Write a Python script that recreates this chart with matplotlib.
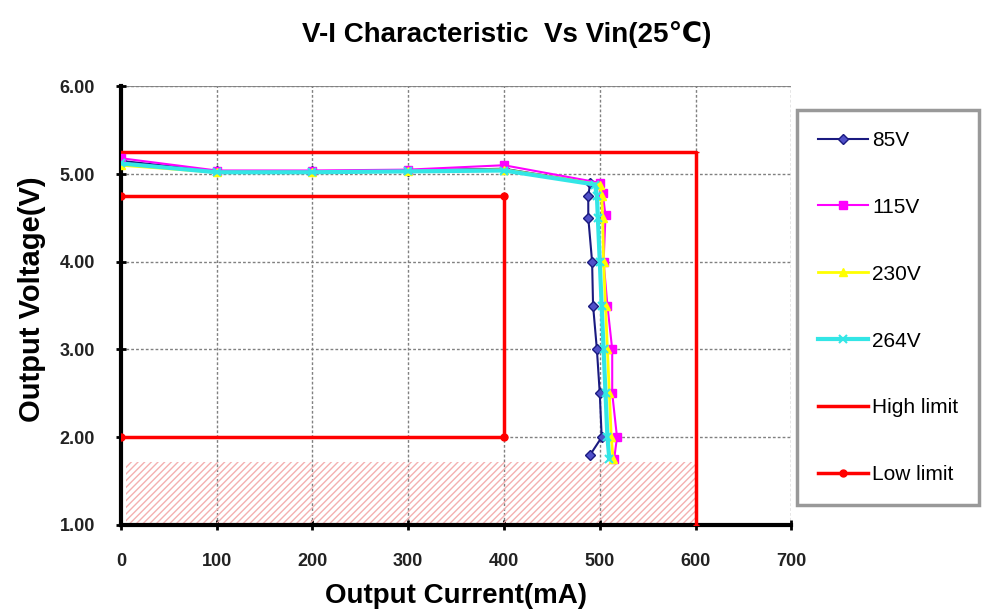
import matplotlib.pyplot as plt
from matplotlib.patches import Rectangle

plt.rcParams['font.family'] = ['Liberation Sans', 'DejaVu Sans']

# - Data
i_85 = [0, 100, 200, 300, 400, 490, 488, 488, 492, 493, 497, 500, 502, 490]
v_85 = [5.15, 5.03, 5.03, 5.04, 5.06, 4.90, 4.75, 4.50, 4.00, 3.50, 3.00, 2.50, 2.00, 1.80]
i_115 = [0, 100, 200, 300, 400, 500, 503, 506, 504, 508, 513, 513, 518, 515]
v_115 = [5.18, 5.04, 5.04, 5.05, 5.10, 4.90, 4.78, 4.53, 4.00, 3.50, 3.00, 2.50, 2.00, 1.75]
i_230 = [0, 100, 200, 300, 400, 500, 502, 503, 504, 506, 508, 510, 512, 514]
v_230 = [5.10, 5.02, 5.02, 5.03, 5.05, 4.88, 4.75, 4.50, 4.00, 3.50, 3.00, 2.50, 2.00, 1.75]
i_264 = [0, 100, 200, 300, 400, 495, 497, 498, 500, 502, 504, 506, 508, 510]
v_264 = [5.12, 5.02, 5.02, 5.03, 5.04, 4.88, 4.75, 4.50, 4.00, 3.50, 3.00, 2.50, 2.00, 1.75]
i_high = [0, 600, 600]
v_high = [5.25, 5.25, 1.00]
i_low = [0, 400, 400, 0]
v_low = [4.75, 4.75, 2.00, 2.00]
hatch_i = [5, 600]
hatch_v = [1.00, 1.72]

x_ticks = [0, 100, 200, 300, 400, 500, 600, 700]
y_ticks = [1, 2, 3, 4, 5, 6]

fig = plt.figure(figsize=(9.83, 6.11), dpi=100)
ax = fig.add_axes([0.123, 0.1408, 0.682, 0.718])

# - Hatched area below the limits
ax.add_patch(Rectangle((hatch_i[0], hatch_v[0]), hatch_i[1] - hatch_i[0],
                       hatch_v[1] - hatch_v[0], facecolor='none',
                       edgecolor='#F4B0B0', hatch='/////', linewidth=0, zorder=1))

ax.plot(i_high, v_high, color='#FF0000', lw=2.5, marker='_', ms=5, label='High limit', zorder=3)
ax.plot(i_low, v_low, color='#FF0000', lw=2.5, marker='o', ms=5, label='Low limit', zorder=3)
ax.plot(i_85, v_85, color='#1A1A80', lw=1.5, marker='D', ms=5, mfc='#5050C8',
        mec='#1A1A80', label='85V', zorder=4)
ax.plot(i_115, v_115, color='#FF00FF', lw=1.5, marker='s', ms=6, label='115V', zorder=4)
ax.plot(i_230, v_230, color='#FFFF00', lw=2, marker='^', ms=6, label='230V', zorder=5)
ax.plot(i_264, v_264, color='#33E6E6', lw=3, marker='x', ms=6, mew=1.5, label='264V', zorder=6)

ax.set_xlim(0, 700)
ax.set_ylim(1, 6)
ax.set_xticks(x_ticks)
ax.set_yticks(y_ticks)
ax.set_yticklabels(['%.2f' % v for v in y_ticks])
ax.tick_params(direction='inout', length=7, width=2, labelsize=13, labelcolor='#222222')
ax.tick_params(axis='x', pad=17)
ax.tick_params(axis='y', pad=15)
for lab in ax.get_xticklabels() + ax.get_yticklabels():
    lab.set_fontweight('bold')

ax.grid(True, color='#808080', linestyle=(0, (2, 1.5)), lw=1)
ax.set_axisbelow(True)
for s in ['top', 'right']:
    ax.spines[s].set_visible(False)
ax.spines['left'].set_linewidth(3)
ax.spines['bottom'].set_linewidth(3)
ax.axhline(6, color='#909090', lw=1.5, zorder=0)

ax.set_xlabel('Output Current(mA)', fontsize=20, fontweight='bold', labelpad=9)
ax.set_ylabel('Output Voltage(V)', fontsize=21, fontweight='bold')
ax.yaxis.set_label_coords(-0.111, 0.515)
fig.text(0.515, 0.944, 'V-I Characteristic  Vs Vin(25\u2103)', ha='center', va='center',
         fontsize=20, fontweight='bold')

handles, labels = ax.get_legend_handles_labels()
order = [2, 3, 4, 5, 0, 1]
leg = fig.legend([handles[k] for k in order], [labels[k] for k in order],
                 loc='upper left', bbox_to_anchor=(0.811, 0.82), frameon=True,
                 fancybox=False, edgecolor='#808080', fontsize=15,
                 labelspacing=2.3, handlelength=2.4, handletextpad=0.2,
                 borderpad=1.0, borderaxespad=0)
leg.get_frame().set_linewidth(2.5)

plt.savefig('out.png')
